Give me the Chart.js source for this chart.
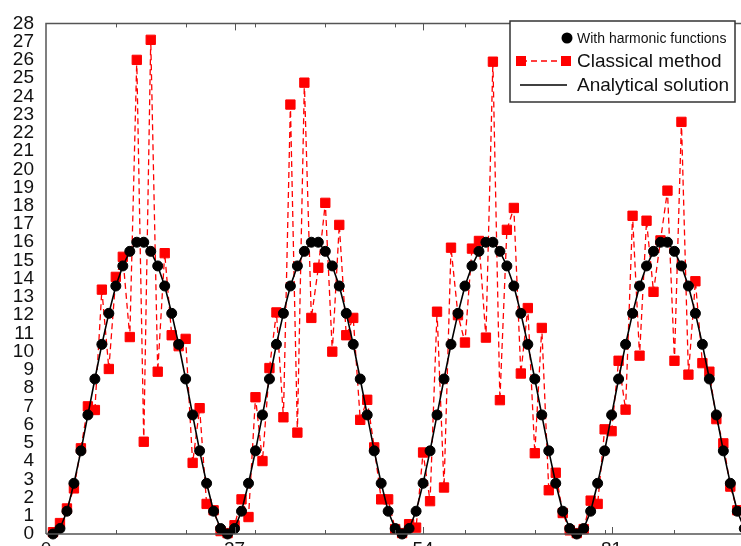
<!DOCTYPE html>
<html lang="en">
<head>
    <meta charset="UTF-8">
    <title>Harmonic functions vs classical method</title>
    <script src="https://cdn.jsdelivr.net/npm/chart.js@4.4.0/dist/chart.umd.min.js"></script>
    <style>
        body { margin: 0; overflow: hidden; background: #fff; }
        .grafico { width: 820px; height: 560px; }
    </style>
</head>
<body>
    <div class="grafico">
        <canvas id="grafico" width="820" height="560"></canvas>
    </div>

    <script>
        // sample positions (one point per unit step)
        const sampleX = Array.from({ length: 100 }, (_, i) => i + 1)

        // tick labels
        const xLabels = [0, 27, 54, 81, 108]
        const xMinorTicks = [10, 20, 30, 40, 50, 60, 70, 80, 90, 100]

        // black circles / analytical curve
        const harmonic = [
            0, 0.3, 1.25, 2.78, 4.56, 6.53, 8.5, 10.4, 12.1, 13.6, 14.7, 15.5, 16.0, 16.0, 15.5, 14.7, 13.6, 12.1, 10.4, 8.5, 6.53, 4.56, 2.78, 1.25, 0.3,
            0, 0.3, 1.25, 2.78, 4.56, 6.53, 8.5, 10.4, 12.1, 13.6, 14.7, 15.5, 16.0, 16.0, 15.5, 14.7, 13.6, 12.1, 10.4, 8.5, 6.53, 4.56, 2.78, 1.25, 0.3,
            0, 0.3, 1.25, 2.78, 4.56, 6.53, 8.5, 10.4, 12.1, 13.6, 14.7, 15.5, 16.0, 16.0, 15.5, 14.7, 13.6, 12.1, 10.4, 8.5, 6.53, 4.56, 2.78, 1.25, 0.3,
            0, 0.3, 1.25, 2.78, 4.56, 6.53, 8.5, 10.4, 12.1, 13.6, 14.7, 15.5, 16.0, 16.0, 15.5, 14.7, 13.6, 12.1, 10.4, 8.5, 6.53, 4.56, 2.78, 1.25, 0.3
        ]

        // red squares
        const classical = [
            0.1, 0.6, 1.4, 2.5, 4.7, 7.0, 6.8, 13.4, 9.05, 14.1,
            15.2, 10.8, 26.0, 5.06, 27.1, 8.9, 15.4, 10.9, 10.3, 10.7,
            3.9, 6.9, 1.65, 1.3, 0.16, 0.05, 0.48, 1.9, 0.93, 7.5,
            4.0, 9.1, 12.15, 6.4, 23.55, 5.56, 24.75, 11.85, 14.6, 18.16,
            10.0, 16.95, 10.9, 11.85, 6.26, 7.36, 4.75, 1.9, 1.9, 0.27,
            0.05, 0.54, 0.35, 4.47, 1.8, 12.19, 2.55, 15.7, 12.0, 10.5,
            15.65, 16.07, 10.77, 25.9, 7.34, 16.68, 17.88, 8.8, 12.39, 4.43,
            11.3, 2.4, 3.36, 1.15, 0.2, 0.05, 0.27, 1.83, 1.65, 5.74,
            5.64, 9.5, 6.82, 17.45, 9.78, 17.18, 13.28, 16.1, 18.83, 9.5,
            22.6, 8.74, 13.86, 9.37, 8.9, 6.3, 4.97, 2.6, 1.3
        ]

        const fonte = '"Liberation Sans", Arial, Helvetica, sans-serif'
        const corEixo = '#555'

        function pontos(valores) {
            return valores.map((v, i) => ({ x: sampleX[i], y: v }))
        }

        // frame, inner ticks and the gnuplot-like key
        const moldura = {
            id: 'moldura',
            afterDatasetsDraw(chart) {
                const ctx = chart.ctx
                const area = chart.chartArea
                const sx = chart.scales.x
                ctx.save()
                ctx.strokeStyle = corEixo
                ctx.lineWidth = 1.5
                ctx.beginPath()
                ctx.moveTo(area.left, area.bottom)
                ctx.lineTo(area.left, area.top)
                ctx.lineTo(area.right, area.top)
                ctx.moveTo(area.left, area.bottom)
                ctx.lineTo(area.right, area.bottom)
                ctx.stroke()

                ctx.lineWidth = 1
                xMinorTicks.forEach(v => {
                    const px = Math.round(sx.getPixelForValue(v)) + 0.5
                    ctx.beginPath()
                    ctx.moveTo(px, area.top); ctx.lineTo(px, area.top + 4)
                    ctx.moveTo(px, area.bottom); ctx.lineTo(px, area.bottom - 4)
                    ctx.stroke()
                })
                xLabels.slice(1).forEach(v => {
                    const px = Math.round(sx.getPixelForValue(v)) + 0.5
                    ctx.beginPath()
                    ctx.moveTo(px, area.top); ctx.lineTo(px, area.top + 7)
                    ctx.moveTo(px, area.bottom); ctx.lineTo(px, area.bottom - 7)
                    ctx.stroke()
                })

                // key box
                const bx = 510, by = 21, bw = 225, bh = 81
                ctx.fillStyle = '#fff'
                ctx.fillRect(bx, by, bw, bh)
                ctx.strokeStyle = '#333'
                ctx.lineWidth = 1.5
                ctx.strokeRect(bx, by, bw, bh)

                ctx.fillStyle = '#000'
                ctx.beginPath()
                ctx.arc(567, 38, 5.5, 0, Math.PI * 2)
                ctx.fill()

                ctx.strokeStyle = '#f00'
                ctx.lineWidth = 1.3
                ctx.setLineDash([6, 4])
                ctx.beginPath()
                ctx.moveTo(521, 61); ctx.lineTo(566, 61)
                ctx.stroke()
                ctx.setLineDash([])
                ctx.fillStyle = '#f00'
                ctx.fillRect(516, 56, 10, 10)
                ctx.fillRect(561, 56, 10, 10)

                ctx.strokeStyle = '#000'
                ctx.lineWidth = 1.5
                ctx.beginPath()
                ctx.moveTo(520, 85); ctx.lineTo(567, 85)
                ctx.stroke()

                ctx.fillStyle = '#111'
                ctx.textBaseline = 'middle'
                ctx.textAlign = 'left'
                ctx.font = '14px ' + fonte
                ctx.fillText('With harmonic functions', 577, 39)
                ctx.font = '19px ' + fonte
                ctx.fillText('Classical method', 577, 62)
                ctx.fillText('Analytical solution', 577, 86)
                ctx.restore()
            }
        }

        new Chart(document.getElementById('grafico'), {
            type: 'line',
            data: {
                datasets: [
                    {
                        label: 'Analytical solution',
                        data: pontos(harmonic),
                        borderColor: '#000',
                        borderWidth: 1.6,
                        pointRadius: 0,
                        tension: 0,
                        order: 0,
                        clip: 12
                    },
                    {
                        label: 'With harmonic functions',
                        data: pontos(harmonic),
                        showLine: false,
                        pointStyle: 'circle',
                        pointRadius: 5,
                        pointBorderWidth: 1,
                        pointBackgroundColor: '#000',
                        pointBorderColor: '#000',
                        order: 1,
                        clip: 12
                    },
                    {
                        label: 'Classical method',
                        data: pontos(classical),
                        borderColor: '#f00',
                        borderWidth: 1.3,
                        borderDash: [6, 4],
                        pointStyle: 'rect',
                        pointRadius: 6.6,
                        pointBorderWidth: 1,
                        pointBackgroundColor: '#f00',
                        pointBorderColor: '#f00',
                        tension: 0,
                        order: 2,
                        clip: 12
                    }
                ]
            },
            options: {
                responsive: false,
                animation: false,
                layout: { padding: { top: 14, right: 14, left: 0, bottom: 0 } },
                plugins: {
                    legend: { display: false },
                    tooltip: { enabled: false }
                },
                scales: {
                    x: {
                        type: 'linear',
                        min: 0,
                        max: 108,
                        grid: { display: false, drawTicks: false },
                        border: { display: false },
                        afterBuildTicks(scale) {
                            scale.ticks = xLabels.map(v => ({ value: v }))
                        },
                        afterFit(scale) { scale.height = 26 },
                        ticks: {
                            autoSkip: false,
                            maxRotation: 0,
                            padding: 4,
                            color: '#111',
                            font: { family: fonte, size: 19 }
                        }
                    },
                    y: {
                        min: 0,
                        max: 28,
                        grid: { display: false, drawTicks: false },
                        border: { display: false },
                        afterFit(scale) { scale.width = 46 },
                        ticks: {
                            stepSize: 1,
                            autoSkip: false,
                            padding: 12,
                            color: '#111',
                            font: { family: fonte, size: 19 }
                        }
                    }
                }
            },
            plugins: [moldura]
        })
    </script>
</body>
</html>
